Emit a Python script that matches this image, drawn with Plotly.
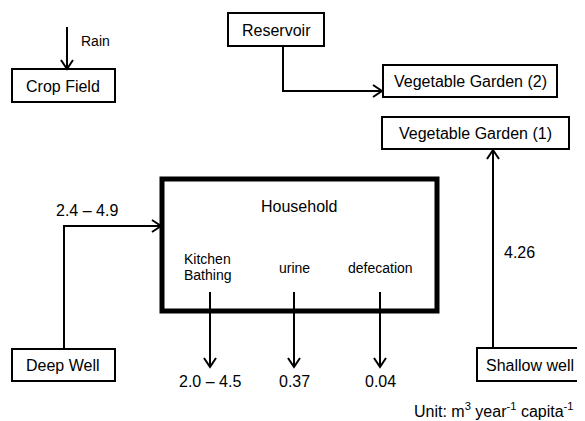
import plotly.graph_objects as go

# ---- diagram content ----
node_names = ["Crop Field", "Reservoir", "Vegetable Garden (2)", "Vegetable Garden (1)",
              "Household", "Deep Well", "Shallow well"]
flow_labels = ["Rain", "2.4 \u2013 4.9", "2.0 \u2013 4.5", "0.37", "0.04", "4.26"]
household_uses = [["Kitchen", "Bathing"], ["urine"], ["defecation"]]
unit_text = "Unit: m<sup>3</sup> year<sup>-1</sup> capita<sup>-1</sup>"

# ---- layout geometry (pixel space of the 585x421 page) ----
node_boxes = [(12, 69, 115, 102), (228, 13, 324, 46), (383, 65, 557, 97), (382, 117, 569, 149),
              (162, 179, 437, 311), (12, 349, 115, 381), (477, 348, 595, 381)]
node_label_pos = [(63, 86), (276, 30), (470, 81), (475, 133), (299, 206), (63, 365), (530, 365)]
node_line_w = [2, 2, 2, 2, 5, 2, 2]

arrow_paths = [
    [(67, 27), (67, 69)],
    [(283, 46), (283, 91), (382, 91)],
    [(64, 349), (64, 226), (161, 226)],
    [(210, 292), (210, 367)],
    [(294, 292), (294, 367)],
    [(380, 292), (380, 367)],
    [(493, 348), (493, 150)],
]
flow_label_pos = [(79, 41, "left"), (87, 210, "center"), (210, 381, "center"),
                  (294, 381, "center"), (380, 381, "center"), (519, 252, "center")]
use_pos = [(207, [259, 275]), (294, [268]), (380, [268])]

PAGE_OFFSET = 8  # default body margin of the html page
W, H = 585, 421

FONT = "Liberation Sans, Arial, sans-serif"
fig = go.Figure()
shapes = []
annotations = []

for (x0, y0, x1, y1), lw in zip(node_boxes, node_line_w):
    shapes.append(dict(type="rect", xref="x", yref="y", x0=x0, y0=y0, x1=x1, y1=y1,
                       line=dict(color="black", width=lw), fillcolor="rgba(0,0,0,0)"))

for name, (x, y) in zip(node_names, node_label_pos):
    annotations.append(dict(x=x, y=y, xref="x", yref="y", text=name, showarrow=False,
                            font=dict(family=FONT, size=16, color="black"),
                            xanchor="center", yanchor="middle"))

for pts in arrow_paths:
    d = "M " + " L ".join(f"{x},{y}" for x, y in pts)
    shapes.append(dict(type="path", xref="x", yref="y", path=d,
                       line=dict(color="black", width=2)))
    (xa, ya), (xb, yb) = pts[-2], pts[-1]
    dx, dy = xb - xa, yb - ya
    L = (dx * dx + dy * dy) ** 0.5
    ux, uy = dx / L, dy / L
    px, py = -uy, ux
    depth, half = 9, 6
    bx, by = xb - ux * depth, yb - uy * depth
    hd = f"M {bx + px * half},{by + py * half} L {xb},{yb} L {bx - px * half},{by - py * half}"
    shapes.append(dict(type="path", xref="x", yref="y", path=hd,
                       line=dict(color="black", width=2)))

for lab, (x, y, anc) in zip(flow_labels, flow_label_pos):
    size = 14 if lab == "Rain" else 16
    annotations.append(dict(x=x, y=y, xref="x", yref="y", text=lab, showarrow=False,
                            font=dict(family=FONT, size=size, color="black"),
                            xanchor=anc, yanchor="middle"))

for words, (x, ys) in zip(household_uses, use_pos):
    for w, y in zip(words, ys):
        annotations.append(dict(x=x, y=y, xref="x", yref="y", text=w, showarrow=False,
                                font=dict(family=FONT, size=14, color="black"),
                                xanchor="center", yanchor="middle"))

annotations.append(dict(x=576, y=410, xref="x", yref="y", text=unit_text, showarrow=False,
                        font=dict(family=FONT, size=16, color="black"),
                        xanchor="right", yanchor="middle"))

fig.update_layout(
    width=W - PAGE_OFFSET, height=H - PAGE_OFFSET, margin=dict(l=0, r=0, t=0, b=0),
    paper_bgcolor="white", plot_bgcolor="white",
    xaxis=dict(range=[PAGE_OFFSET, W], visible=False, fixedrange=True),
    yaxis=dict(range=[H, PAGE_OFFSET], visible=False, fixedrange=True),
    shapes=shapes, annotations=annotations, showlegend=False,
)
fig.write_html("out.html")
